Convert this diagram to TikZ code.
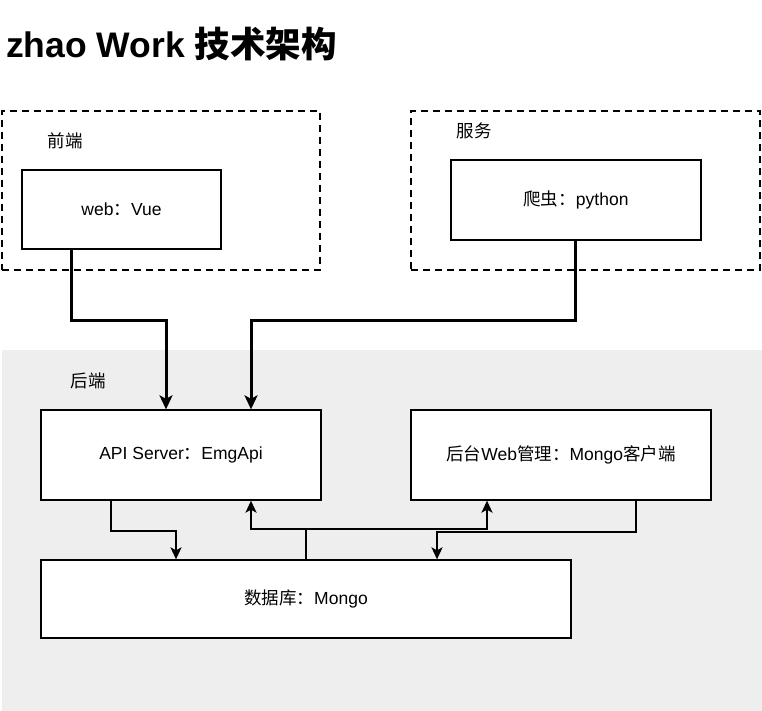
\documentclass[tikz,border=0pt]{standalone}
\usepackage{fontspec}
\setmainfont{Liberation Sans}
\newfontfamily\cjk{Noto Sans CJK SC}
\usepackage{tikz}
\usetikzlibrary{positioning, arrows.meta}
\definecolor{lineColor}{RGB}{0, 0, 0}
\definecolor{groupFill}{RGB}{238, 238, 238}
\definecolor{boxFill}{RGB}{255, 255, 255}
\tikzset{
    arch_box/.style={
        draw=lineColor,
        line width=1.3pt,
        fill=boxFill,
        inner sep=0pt,
        font=\fontsize{17.5}{21}\selectfont
    },
    group_box/.style={
        draw=lineColor,
        line width=2pt,
        dash pattern=on 7pt off 5pt,
        inner sep=0pt
    },
    group_bg/.style={
        fill=groupFill,
        inner sep=0pt
    },
    group_label/.style={
        font=\fontsize{17.5}{21}\selectfont\cjk,
        inner sep=0pt
    },
    main_edge/.style={
        -{Stealth[length=14pt, width=13pt, inset=3.5pt]},
        line width=3pt,
        draw=lineColor
    },
    db_edge/.style={
        -{Stealth[length=12pt, width=11pt, inset=3pt]},
        line width=2pt,
        draw=lineColor
    }
}
\begin{document}
\begin{tikzpicture}[x=1pt, y=-1pt]
        \useasboundingbox (0,0) rectangle (762,711);

        \node[anchor=base west, inner sep=0pt, font=\fontsize{35.5}{40}\selectfont\bfseries] (title)
            at (6,58) {zhao Work {\cjk 技术架构}};

        \node[group_box, minimum width=318pt, minimum height=159pt] (fe_group) at (161,190.5) {};
        \node[group_label] (fe_label) at (65,141) {前端};
        \node[group_box, minimum width=349pt, minimum height=159pt] (svc_group) at (585.5,190.5) {};
        \node[group_label] (svc_label) at (474,131) {服务};
        \node[group_bg, minimum width=760pt, minimum height=361pt] (be_group) at (382,530.5) {};
        \node[group_label] (be_label) at (88,381) {后端};

        \node[arch_box, minimum width=199pt, minimum height=79pt] (web) at (121.5,209.5) {web{\cjk ：}Vue};
        \node[arch_box, minimum width=250pt, minimum height=80pt] (crawler) at (576,200) {{\cjk 爬虫：}python};
        \node[arch_box, minimum width=280pt, minimum height=90pt] (api) at (181,455) {API Server{\cjk ：}EmgApi};
        \node[arch_box, minimum width=300pt, minimum height=90pt] (admin) at (561,455) {{\cjk 后台}Web{\cjk 管理：}Mongo{\cjk 客户端}};
        \node[arch_box, minimum width=530pt, minimum height=78pt] (db) at (306,599) {{\cjk 数据库：}Mongo};

        \draw[main_edge] ([xshift=-50pt]web.south) -- ++(0,71) -| ([xshift=-15pt]api.north);
        \draw[main_edge] ([xshift=-1pt]crawler.south) -- ++(0,80) -| ([xshift=70pt]api.north);

        \draw[db_edge] ([xshift=-70pt]api.south) -- ++(0,30) -| ([xshift=-130pt]db.north);
        \draw[db_edge] (db.north) -- ++(0,-30) -| ([xshift=70pt]api.south);
        \draw[db_edge] (db.north) -- ++(0,-30) -| ([xshift=-74pt]admin.south);
        \draw[db_edge] ([xshift=75pt]admin.south) -- ++(0,31) -| ([xshift=131pt]db.north);
    \end{tikzpicture}
\end{document}
